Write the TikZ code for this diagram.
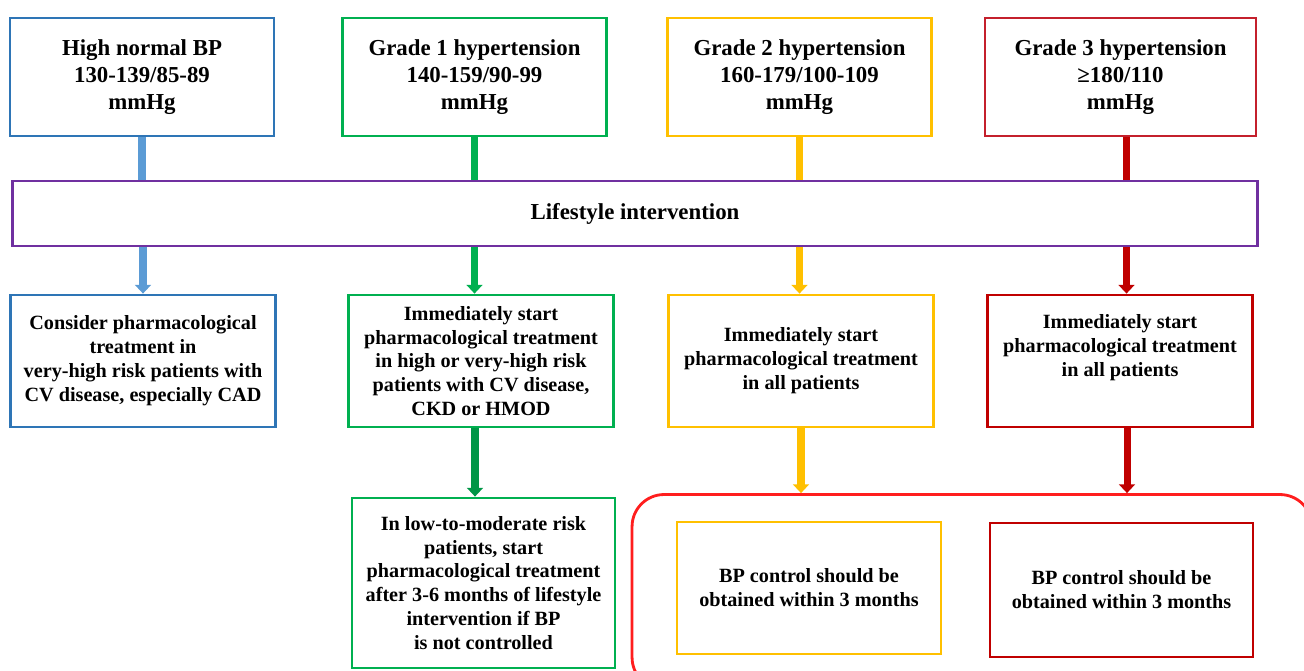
\documentclass[tikz,border=0pt]{standalone}
\usepackage{fontspec}
\setmainfont{Liberation Serif}
\usetikzlibrary{arrows.meta,positioning}
\definecolor{hnBlue}{RGB}{46,117,182}
\definecolor{hnArrow}{RGB}{91,155,213}
\definecolor{gOne}{RGB}{0,176,80}
\definecolor{gOneDark}{RGB}{0,150,70}
\definecolor{gTwo}{RGB}{255,192,0}
\definecolor{gThree}{RGB}{192,0,0}
\definecolor{gThreeBox}{RGB}{196,32,44}
\definecolor{lifePurple}{RGB}{112,48,160}
\definecolor{ctrlRed}{RGB}{255,30,30}
\tikzset{
  grade/.style={draw,line width=1.6pt,fill=white,minimum width=5.28cm,minimum height=2.36cm,
    align=center,inner sep=2pt,font=\fontsize{13}{15.3}\selectfont\bfseries},
  act/.style={draw,line width=1.6pt,fill=white,minimum width=5.3cm,minimum height=2.64cm,
    align=center,inner sep=2pt,font=\fontsize{11.5}{13.6}\selectfont\bfseries},
  link/.style={line width=4pt},
  arr/.style={line width=4pt,-{Triangle[width=9pt,length=5pt]}},
}

\begin{document}
\begin{tikzpicture}[x=0.02cm,y=-0.02cm]
\useasboundingbox (0,0) rectangle (1304,670);
\clip (0,0) rectangle (1304,670);
% grades
\node[grade,draw=hnBlue] (hn) at (142,77) {High normal BP\\130-139/85-89\\mmHg};
\node[grade,draw=gOne] (g1) at (474.5,77) {Grade 1 hypertension\\140-159/90-99\\mmHg};
\node[grade,draw=gTwo] (g2) at (799.5,77) {Grade 2 hypertension\\160-179/100-109\\mmHg};
\node[grade,draw=gThreeBox,minimum width=5.42cm] (g3) at (1120.5,77) {Grade 3 hypertension\\≥180/110\\mmHg};
% lifestyle
\node[draw=lifePurple,line width=1.6pt,minimum width=24.92cm,minimum height=1.3cm,
  font=\fontsize{13}{15.3}\selectfont\bfseries] (life) at (635,213.5) {Lifestyle intervention};
% treatment
\node[act,draw=hnBlue] (hnT) at (143,361) {Consider pharmacological\\treatment in\\very-high risk patients with\\CV disease, especially CAD};
\node[act,draw=gOne] (g1T) at (481,361) {Immediately start\\pharmacological treatment\\in high or very-high risk\\patients with CV disease,\\CKD or HMOD};
\node[act,draw=gTwo] (g2T) at (801,361) {Immediately start\\pharmacological treatment\\in all patients};
\node[act,draw=gThree] (g3T) at (1120,361) {Immediately start\\pharmacological treatment\\in all patients\\[4pt]};
\node[act,draw=gOne,minimum width=5.26cm,minimum height=3.4cm] (g1L) at (483.5,583)
  {In low-to-moderate risk\\patients, start\\pharmacological treatment\\after 3-6 months of lifestyle\\intervention if BP\\is not controlled};
% control
\node[draw=ctrlRed,line width=1.6pt,rounded corners=0.64cm,minimum width=13.6cm,minimum height=3.9cm] (ctrl) at (972,592) {};
\node[act,draw=gTwo,minimum width=5.28cm] (g2C) at (809,588) {BP control should be\\obtained within 3 months};
\node[act,draw=gThree,minimum width=5.26cm,minimum height=2.68cm] (g3C) at (1121.5,590) {BP control should be\\obtained within 3 months};
% arrows
\draw[link,hnArrow] (hn.south) -- (hn.south |- life.north);
\draw[link,gOne] (g1.south) -- (g1.south |- life.north);
\draw[link,gTwo] (g2.south) -- (g2.south |- life.north);
\draw[link,gThree] ([xshift=0.12cm]g3.south) -- ([xshift=0.12cm]g3.south |- life.north);
\draw[arr,hnArrow] (hnT.north |- life.south) -- (hnT.north);
\draw[arr,gOne] (g1.south |- life.south) -- (g1.south |- g1T.north);
\draw[arr,gTwo] (g2.south |- life.south) -- (g2.south |- g2T.north);
\draw[arr,gThree] ([xshift=0.12cm]g3.south |- life.south) -- ([xshift=0.12cm]g3.south |- g3T.north);
\draw[arr,gOneDark] ([xshift=-0.12cm]g1T.south) -- ([xshift=-0.12cm]g1T.south |- g1L.north);
\draw[arr,gTwo] (g2T.south) -- (g2T.south |- ctrl.north);
\draw[arr,gThree] ([xshift=0.14cm]g3T.south) -- ([xshift=0.14cm]g3T.south |- ctrl.north);
\end{tikzpicture}
\end{document}
